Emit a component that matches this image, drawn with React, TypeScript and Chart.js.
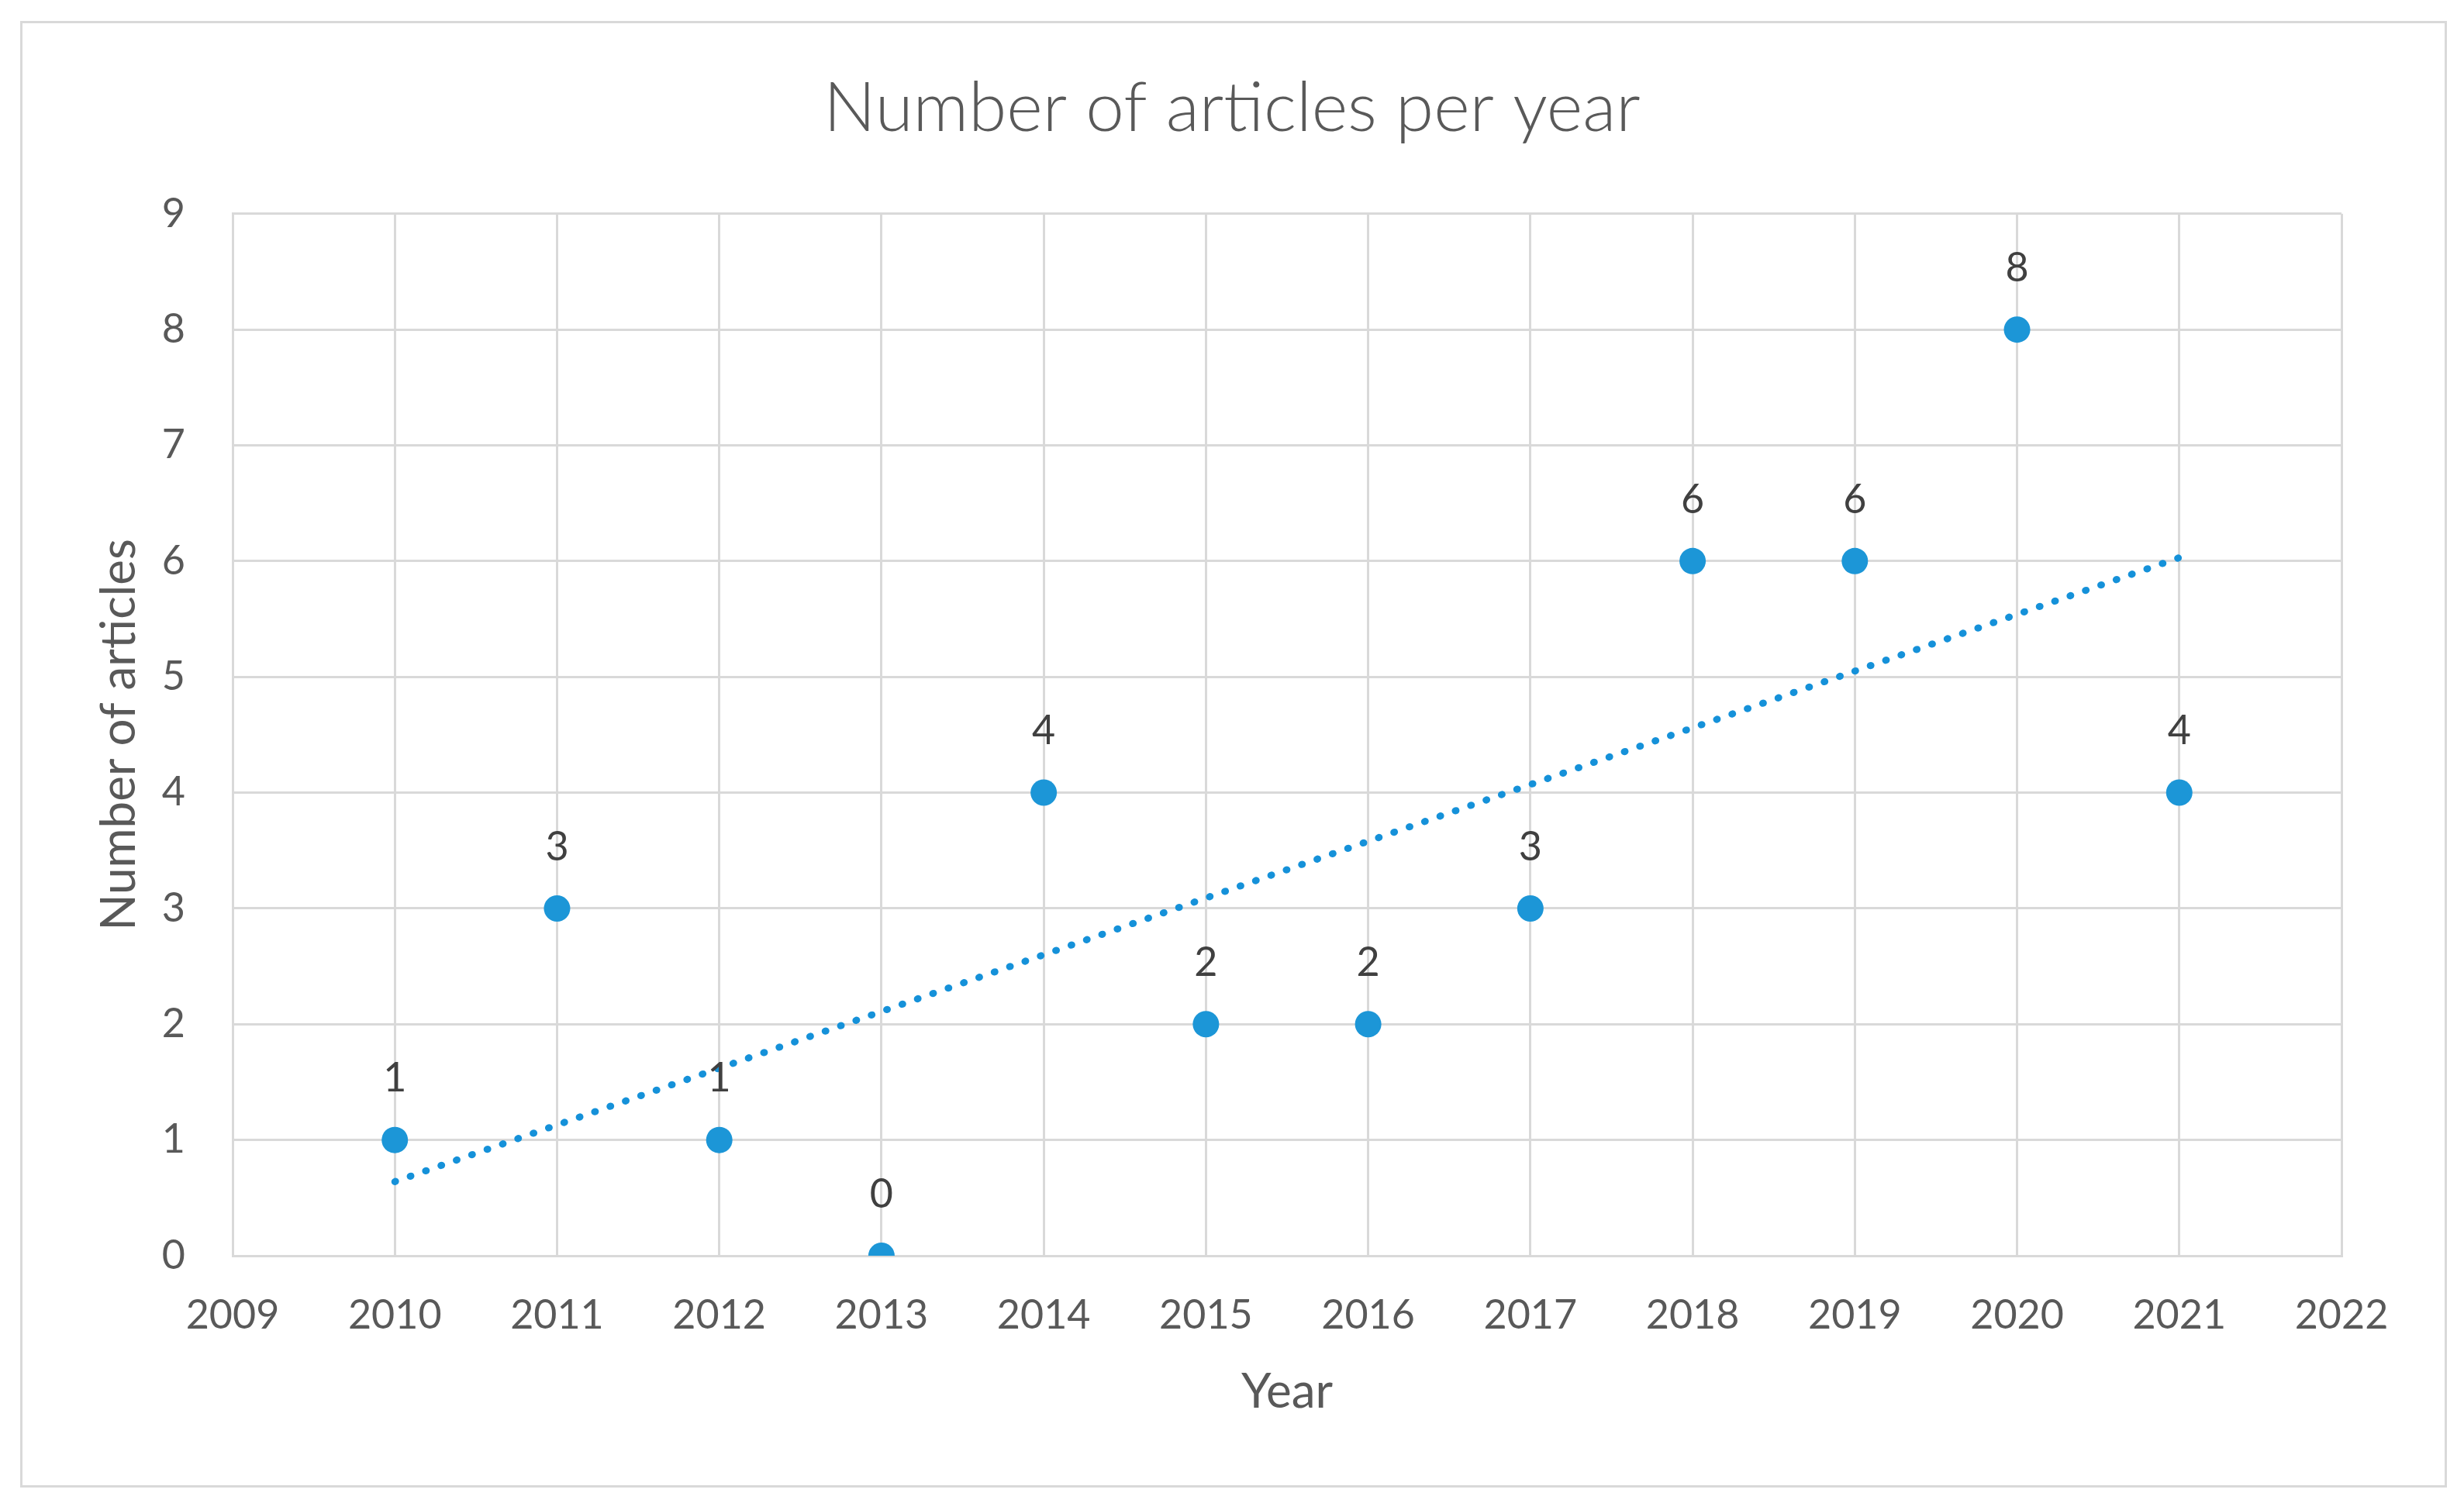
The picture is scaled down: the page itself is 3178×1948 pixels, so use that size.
import React, { useEffect, useRef } from 'react';
import { Chart, registerables } from 'chart.js';

Chart.register(...registerables);

const chartTitle = 'Number of articles per year';
const xAxisTitle = 'Year';
const yAxisTitle = 'Number of articles';

const years = [2010, 2011, 2012, 2013, 2014, 2015, 2016, 2017, 2018, 2019, 2020, 2021];
const articles = [1, 3, 1, 0, 4, 2, 2, 3, 6, 6, 8, 4];

// Linear trendline end points
const trendYears = [2010, 2021];
const trendValues = [0.64, 6.03];

const xRange = [2009, 2022];
const yRange = [0, 9];

const FONT = 'Lato';
const TEXT = '#595959';
const LABEL = '#404040';
const GRID = '#d9d9d9';
const POINT = '#1c96d7';
const TREND = '#1591d9';

const frameAndTitlePlugin = {
  id: 'frameAndTitle',
  beforeDraw(chart: any) {
    const { ctx, width, height } = chart;
    ctx.save();
    ctx.fillStyle = '#ffffff';
    ctx.fillRect(0, 0, width, height);
    ctx.strokeStyle = GRID;
    ctx.lineWidth = 3;
    ctx.strokeRect(27.5, 28.5, 3127, 1889);
    ctx.restore();
  },
  afterLayout(chart: any) {
    if (chart.titleBlock) {
      chart.titleBlock.left = 0;
      chart.titleBlock.right = chart.width;
    }
  },
};

const dataLabelPlugin = {
  id: 'dataLabels',
  afterDatasetsDraw(chart: any) {
    const { ctx } = chart;
    const meta = chart.getDatasetMeta(0);
    ctx.save();
    ctx.fillStyle = LABEL;
    ctx.font = `52px ${FONT}`;
    ctx.textAlign = 'center';
    ctx.textBaseline = 'middle';
    meta.data.forEach((el: any, i: number) => {
      ctx.fillText(String(articles[i]), el.x, el.y - 79);
    });
    ctx.restore();
  },
};

export default function App() {
  const canvasRef = useRef<HTMLCanvasElement | null>(null);

  useEffect(() => {
    let chart: Chart | null = null;
    let cancelled = false;
    const build = () => {
      if (cancelled || !canvasRef.current) return;
      chart = new Chart(canvasRef.current, {
        type: 'scatter',
        data: {
          datasets: [
            {
              label: 'Articles',
              data: years.map((y, i) => ({ x: y, y: articles[i] })),
              backgroundColor: POINT,
              borderColor: POINT,
              pointRadius: 17,
              pointBorderWidth: 0,
              showLine: false,
              order: 2,
            },
            {
              label: 'Trend',
              data: trendYears.map((y, i) => ({ x: y, y: trendValues[i] })),
              borderColor: TREND,
              backgroundColor: TREND,
              borderWidth: 9,
              borderDash: [1, 20],
              borderCapStyle: 'round',
              pointRadius: 0,
              showLine: true,
              order: 1,
            } as any,
          ],
        },
        options: {
          animation: false,
          responsive: true,
          maintainAspectRatio: false,
          events: [],
          layout: { padding: { left: 100, right: 158, top: 30, bottom: 30 } },
          plugins: {
            legend: { display: false },
            tooltip: { enabled: false },
            title: {
              display: true,
              text: chartTitle,
              color: TEXT,
              font: { family: FONT, size: 89, weight: 300 },
              padding: { top: 57, bottom: 82 },
            },
          },
          scales: {
            x: {
              type: 'linear',
              min: xRange[0],
              max: xRange[1],
              afterFit: (s: any) => {
                s.height = 298;
              },
              ticks: {
                stepSize: 1,
                autoSkip: false,
                maxRotation: 0,
                callback: (v: any) => String(v),
                color: TEXT,
                font: { family: FONT, size: 52 },
                padding: 46,
              },
              grid: { color: GRID, lineWidth: 3, drawTicks: false },
              border: { color: GRID, width: 3 },
              title: {
                display: true,
                text: xAxisTitle,
                color: TEXT,
                font: { family: FONT, size: 62 },
                padding: { top: 0, bottom: 85 },
              },
            },
            y: {
              type: 'linear',
              min: yRange[0],
              max: yRange[1],
              afterFit: (s: any) => {
                s.width = 200;
              },
              ticks: {
                stepSize: 1,
                color: TEXT,
                font: { family: FONT, size: 52 },
                padding: 61,
              },
              grid: { color: GRID, lineWidth: 3, drawTicks: false },
              border: { color: GRID, width: 3 },
              title: {
                display: true,
                text: yAxisTitle,
                color: TEXT,
                font: { family: FONT, size: 62 },
                padding: { top: 17, bottom: 0 },
              },
            },
          },
        } as any,
        plugins: [frameAndTitlePlugin, dataLabelPlugin],
      });
    };
    const fonts = (document as any).fonts;
    if (fonts && fonts.load) {
      Promise.all([
        fonts.load(`52px ${FONT}`),
        fonts.load(`300 89px ${FONT}`),
      ]).then(build, build);
    } else {
      build();
    }
    return () => {
      cancelled = true;
      if (chart) chart.destroy();
    };
  }, []);

  return (
    <div
      style={{
        position: 'fixed',
        left: 0,
        top: 0,
        width: 3178,
        height: 1948,
        background: '#ffffff',
      }}
    >
      <canvas ref={canvasRef} />
    </div>
  );
}
